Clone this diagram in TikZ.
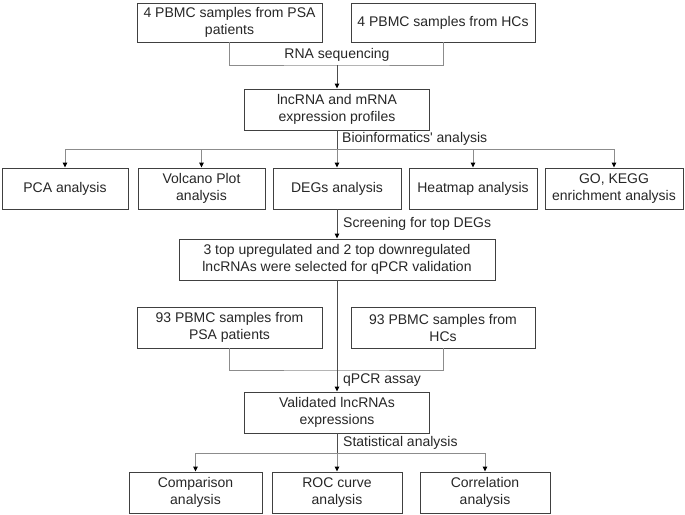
\documentclass[tikz,border=0pt]{standalone}
\usepackage{fontspec}
\setmainfont{Liberation Sans}
\usetikzlibrary{arrows.meta}
\begin{document}
\begin{tikzpicture}[x=1pt,y=-1pt,
  box/.style={draw=black!75, line width=0.9pt, inner sep=0pt, align=center,
    font=\fontsize{14}{17}\selectfont, text=black!85, minimum height=41pt},
  lbl/.style={inner sep=0pt, font=\fontsize{14}{17}\selectfont, text=black!85},
  mainln/.style={draw=black!70, line width=0.9pt},
  thinln/.style={draw=black!45, line width=0.9pt},
  arr/.style={-{Triangle[length=5pt,width=4.5pt,color=black]}}]
\useasboundingbox (0,0) rectangle (685,514);

% boxes
\node[box, minimum width=185pt, minimum height=39pt] (A1) at (229.5,22.5) {4 PBMC samples from PSA\\patients};
\node[box, minimum width=184pt, minimum height=39pt] (A2) at (443,22.5) {4 PBMC samples from HCs};
\node[box, minimum width=185pt] (B) at (337,109.5) {lncRNA and mRNA\\expression profiles};
\node[box, minimum width=126pt] (C1) at (65,188.5) {PCA analysis};
\node[box, minimum width=127pt] (C2) at (201.5,188.5) {Volcano Plot\\analysis};
\node[box, minimum width=128pt] (C3) at (337,188.5) {DEGs analysis};
\node[box, minimum width=128pt] (C4) at (473,188.5) {Heatmap analysis};
\node[box, minimum width=138pt] (C5) at (614,188.5) {GO, KEGG\\enrichment analysis};
\node[box, minimum width=316pt] (D) at (337,259.5) {3 top upregulated and 2 top downregulated\\lncRNAs were selected for qPCR validation};
\node[box, minimum width=185pt] (E1) at (229.5,327.5) {93 PBMC samples from\\PSA patients};
\node[box, minimum width=184pt] (E2) at (443,327.5) {93 PBMC samples from\\HCs};
\node[box, minimum width=185pt] (F) at (337,412.5) {Validated lncRNAs\\expressions};
\node[box, minimum width=133pt] (G1) at (195.5,492.5) {Comparison\\analysis};
\node[box, minimum width=130pt] (G2) at (337,492.5) {ROC curve\\analysis};
\node[box, minimum width=130pt] (G3) at (485,492.5) {Correlation\\analysis};

% labels
\node[lbl] (L1) at (337,55) {RNA sequencing};
\node[lbl, anchor=west] (L2) at (342,139) {Bioinformatics\textquotesingle\ analysis};
\node[lbl, anchor=west] (L3) at (343,224) {Screening for top DEGs};
\node[lbl, anchor=west] (L4) at (343,380) {qPCR assay};
\node[lbl, anchor=west] (L5) at (343,443) {Statistical analysis};

% coordinates
\coordinate (m1) at (337,65);
\coordinate (b1) at (337,149);
\coordinate (m2) at (337,370);
\coordinate (b2) at (337,453);

% connectors
\draw[thinln] (A1.south) |- (m1) -| (A2.south);
\draw[mainln, arr] (m1) -- (B.north);
\draw[mainln] (B.south) -- (b1);
\draw[thinln] (C1.north |- b1) -- (C5.north |- b1);
\foreach \n in {C1,C2,C3,C4,C5} \draw[thinln, arr] (\n.north |- b1) -- (\n.north);
\draw[mainln, arr] (C3.south) -- (D.north);
\draw[thinln] (E1.south) |- (m2) -| (E2.south);
\draw[mainln, arr] (D.south) -- (F.north);
\draw[mainln] (F.south) -- (b2);
\draw[thinln] (G1.north |- b2) -- (G3.north |- b2);
\foreach \n in {G1,G2,G3} \draw[thinln, arr] (\n.north |- b2) -- (\n.north);
\end{tikzpicture}
\end{document}
